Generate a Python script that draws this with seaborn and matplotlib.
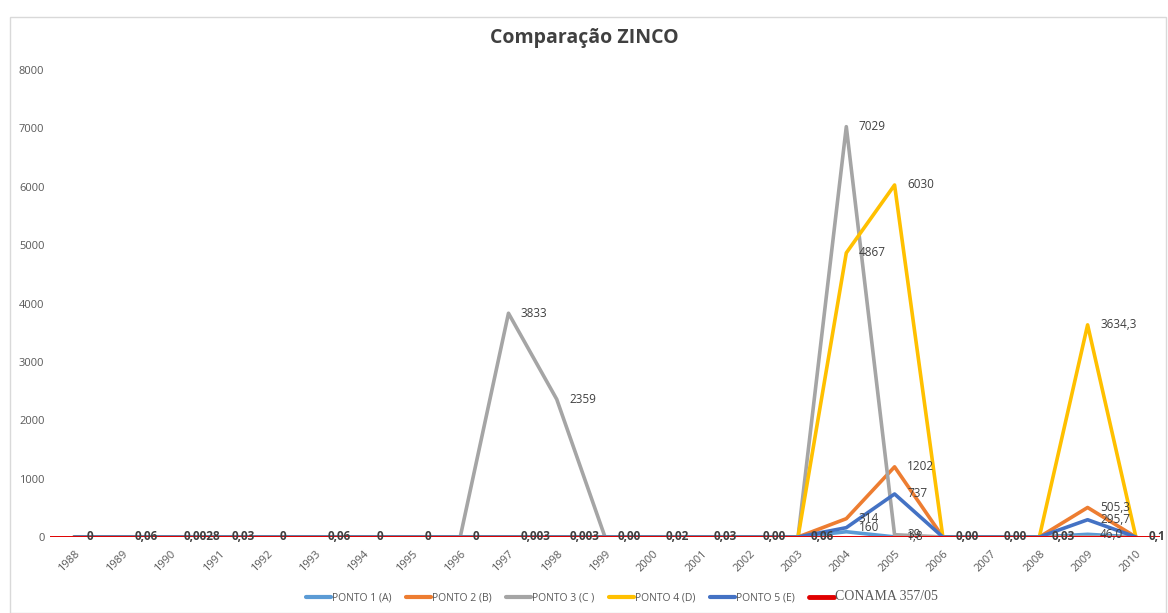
import matplotlib
matplotlib.use("Agg")
import matplotlib.pyplot as plt
from matplotlib.lines import Line2D
from matplotlib.patches import Rectangle
import seaborn as sns
import pandas as pd

# Zinc concentration by sampling point, 1988-2010 (values as recorded, decimal comma)
years = [str(y) for y in range(1988, 2011)]

ponto1 = ["0", "0", "0", "0", "0", "0", "0", "0", "0", "0", "0", "0", "0", "0", "0", "0",
          "90", "1,8", "0", "0", "0", "46,0", "0"]
ponto2 = ["0", "0", "0", "0", "0", "0", "0", "0", "0", "0", "0", "0", "0", "0", "0", "0",
          "314", "1202", "0", "0", "0", "505,3", "0"]
ponto3 = ["0", "0", "0", "0", "0", "0", "0", "0", "0", "3833", "2359", "0", "0", "0", "0", "0",
          "7029", "39", "0", "0", "0", "0", "0"]
ponto4 = ["0", "0", "0", "0", "0", "0", "0", "0", "0", "0", "0", "0", "0", "0", "0", "0",
          "4867", "6030", "0", "0", "0", "3634,3", "0"]
ponto5 = ["0", "0,06", "0,0028", "0,03", "0", "0,06", "0", "0", "0", "0,003", "0,003", "0,00",
          "0,02", "0,03", "0,00", "0,06", "160", "737", "0,00", "0,00", "0,03", "295,7", "0,1"]
conama_limit = 0.18

series_names = ["PONTO 1 (A)", "PONTO 2 (B)", "PONTO 3 (C )", "PONTO 4 (D)", "PONTO 5 (E)"]
series_values = [ponto1, ponto2, ponto3, ponto4, ponto5]
colors = ["#5B9BD5", "#ED7D31", "#A5A5A5", "#FFC000", "#4472C4"]

# which years carry a data label on each line
labelled = {
    "PONTO 1 (A)": ["2005", "2009"],
    "PONTO 2 (B)": ["2004", "2005", "2009"],
    "PONTO 3 (C )": ["1997", "1998", "2004", "2005"],
    "PONTO 4 (D)": ["2004", "2005", "2009"],
    "PONTO 5 (E)": years,
}

rows = []
for name, vals in zip(series_names, series_values):
    for i, (yr, txt) in enumerate(zip(years, vals)):
        rows.append({"pos": i, "ano": yr, "serie": name, "txt": txt,
                     "valor": float(txt.replace(",", "."))})
df = pd.DataFrame(rows)

sns.set_theme(style="white")
plt.rcParams["font.family"] = ["Open Sans", "DejaVu Sans"]

fig = plt.figure(figsize=(11.68, 6.13), dpi=100)
ax = fig.add_axes([50 / 1168, 1 - 537 / 613, 1110 / 1168, 467 / 613])

sns.lineplot(data=df, x="pos", y="valor", hue="serie", hue_order=series_names,
             palette=colors, linewidth=2.6, ax=ax, legend=False, sort=False)

ax.axhline(conama_limit, color="#E00000", linewidth=1.4, zorder=5)

# data labels, placed to the right of each point
for name in series_names:
    sub = df[df["serie"] == name]
    for _, r in sub.iterrows():
        if r["ano"] not in labelled[name]:
            continue
        small = r["valor"] < 1
        ax.annotate(r["txt"], (r["pos"], r["valor"]), xytext=(9, 0),
                    textcoords="offset points", ha="left", va="center",
                    fontsize=8.5, color="#404040",
                    fontweight="bold" if small else "normal", zorder=6)

ax.set_xlim(-0.5, len(years) - 0.5)
ax.set_ylim(0, 8000)
ax.set_yticks(range(0, 8001, 1000))
ax.set_xticks(range(len(years)))
ax.set_xticklabels(years, rotation=45, ha="right", rotation_mode="anchor")
ax.tick_params(axis="both", length=0, labelsize=8, colors="#595959", pad=4)
ax.tick_params(axis="x", pad=8)
ax.set_xlabel("")
ax.set_ylabel("")
for sp in ax.spines.values():
    sp.set_visible(False)

fig.text(0.5, 1 - 38 / 613, "Comparação ZINCO", ha="center", va="center",
         fontsize=14, fontweight="bold", color="#404040")

# chart frame
fig.patches.append(Rectangle((10 / 1168, 0), 1156 / 1168, 1 - 17 / 613,
                             transform=fig.transFigure, fill=False,
                             edgecolor="#D9D9D9", linewidth=1))

handles = [Line2D([], [], color=c, linewidth=3) for c in colors]
handles.append(Line2D([], [], color="#E00000", linewidth=3.5))
leg = fig.legend(handles, series_names + ["CONAMA 357/05"], loc="center",
                 bbox_to_anchor=(622 / 1168, 1 - 597 / 613), ncol=6, frameon=False,
                 fontsize=7.5, handlelength=2.4, columnspacing=1.4, handletextpad=0.1)
for t in leg.get_texts():
    t.set_color("#595959")
leg.get_texts()[-1].set_fontfamily("Liberation Serif")
leg.get_texts()[-1].set_fontsize(10)

fig.savefig("out.png", dpi=100, facecolor="white")
